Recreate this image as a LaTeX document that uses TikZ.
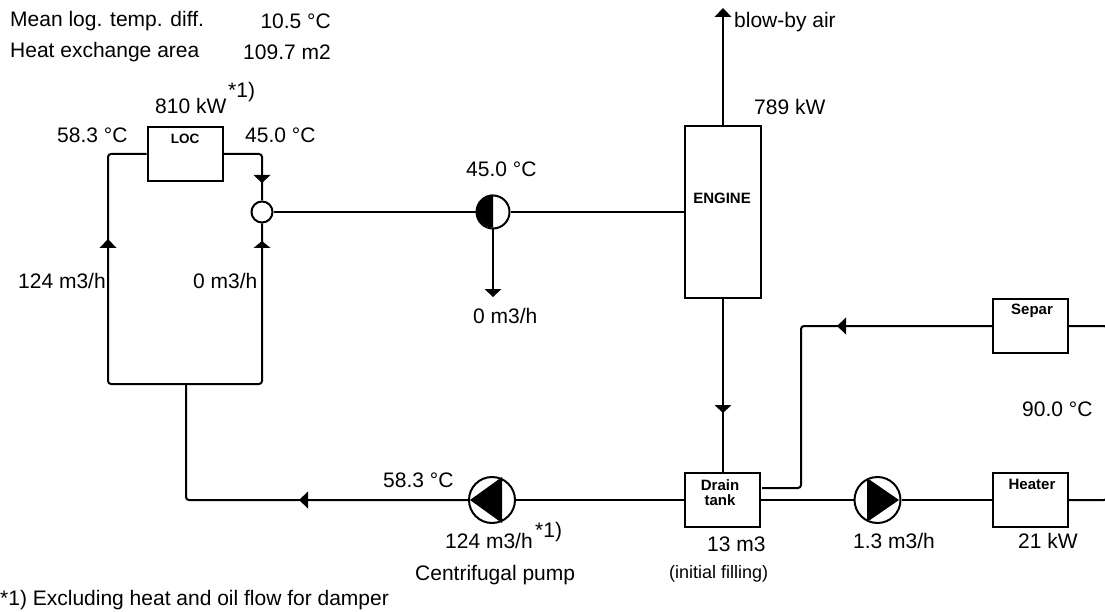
\documentclass[tikz,border=0pt]{standalone}
\usepackage{fontspec}
\setmainfont{Liberation Sans}
\tikzset{
    unitbox/.style={draw, line width=2pt, minimum width=75pt, minimum height=54.5pt, inner sep=0pt},
    boxname/.style={font=\bfseries\fontsize{15}{15}\selectfont, align=center, inner sep=0pt},
    lbl/.style={font=\fontsize{21}{24}\selectfont, inner sep=0pt},
    pipe/.style={line width=2pt, rounded corners=3pt},
    roundel/.style={circle, draw, line width=2pt, inner sep=0pt}
}
\begin{document}
\begin{tikzpicture}[x=1pt, y=-1pt]
    \useasboundingbox (0,0) rectangle (1105,612);

    % units
    \node[unitbox] (loc) at (185,154) {};
    \node[unitbox, minimum height=171pt, minimum width=76pt] (engine) at (722.5,212) {};
    \node[unitbox] (tank) at (722.5,500) {};
    \node[unitbox] (separ) at (1030.5,326) {};
    \node[unitbox] (heater) at (1030.5,500) {};
    \node[boxname, font=\bfseries\fontsize{13.5}{15}\selectfont] (locname) at (185,139) {LOC};
    \node[boxname] (enginename) at (722,198) {ENGINE};
    \node[boxname] (tankname) at (720,493) {Drain\\tank};
    \node[boxname] (separname) at (1032,311) {Separ};
    \node[boxname] (heatername) at (1032,484) {Heater};

    % pumps and valves
    \node[roundel, minimum size=21pt] (mix) at (262,212) {};
    \node[roundel, minimum size=33pt] (split) at (493,212) {};
    \fill (split.north) arc (90:270:16.5pt) -- cycle;
    \node[roundel, minimum size=46pt] (oilpump) at (492,500) {};
    \fill (470,500) -- (502,477) -- (502,523) -- cycle;
    \node[roundel, minimum size=46pt] (feedpump) at (877.5,500) {};
    \fill (899,500) -- (867,478) -- (867,522) -- cycle;

    % free ends
    \coordinate (blowby) at (723,12);
    \coordinate (drainout) at (493,295);
    \coordinate (leftbot) at (108,384);
    \coordinate (rightbot) at (262,384);
    \coordinate (stemtop) at (186,384);
    \coordinate (stembot) at (186,500);
    \coordinate (tankout) at (762,488);
    \coordinate (edgetop) at (1107,326);
    \coordinate (edgebot) at (1107,500);

    % pipes
    \draw[pipe] (loc.west) -- (108,154) -- (leftbot) -- (rightbot) -- (mix.south);
    \draw[pipe] (loc.east) -- (262,154) -- (mix.north);
    \draw[pipe] (mix.east) -- (split.west);
    \draw[pipe] (split.east) -- (engine.west);
    \draw[pipe] (split.south) -- (drainout);
    \draw[pipe] (engine.north -| blowby) -- (blowby);
    \draw[pipe] (engine.south -| blowby) -- (tank.north -| blowby);
    \draw[pipe] (stemtop) -- (stembot) -- (oilpump.west);
    \draw[pipe] (oilpump.east) -- (tank.west);
    \draw[pipe] (tank.east) -- (feedpump.west);
    \draw[pipe] (feedpump.east) -- (heater.west);
    \draw[pipe] (separ.west) -- (801,326) -- (801,488) -- (tankout);
    \draw[pipe] (separ.east) -- (edgetop) -- (edgebot) -- (heater.east);

    % flow arrows
    \fill (253.5,175) -- (270.5,175) -- (262,183) -- cycle;
    \fill (253.5,248) -- (270.5,248) -- (262,241) -- cycle;
    \fill (99.5,248) -- (116.5,248) -- (108,239) -- cycle;
    \fill (484.5,289) -- (501.5,289) -- (493,297) -- cycle;
    \fill (714.5,17) -- (731.5,17) -- (723,8) -- cycle;
    \fill (714.5,405) -- (731.5,405) -- (723,413) -- cycle;
    \fill (308,491.5) -- (308,508.5) -- (299,500) -- cycle;
    \fill (846,317.5) -- (846,334.5) -- (837,326) -- cycle;

    % labels
    \node[lbl, anchor=west] (meanlabel) at (10,21) {Mean log. temp. diff.};
    \node[lbl, anchor=east] (meanvalue) at (331,21) {10.5 °C};
    \node[lbl, anchor=west] (arealabel) at (10,52) {Heat exchange area};
    \node[lbl, anchor=east] (areavalue) at (331,52) {109.7 m2};
    \node[lbl, anchor=west] (locpower) at (155,106) {810 kW};
    \node[lbl, anchor=west] (locnote) at (228,92) {*1)};
    \node[lbl, anchor=west] (locin) at (57,135) {58.3 °C};
    \node[lbl, anchor=west] (locout) at (245,135) {45.0 °C};
    \node[lbl, anchor=west] (flowleft) at (18,281) {124 m3/h};
    \node[lbl, anchor=west] (flowright) at (193,281) {0 m3/h};
    \node[lbl, anchor=west] (splittemp) at (466,169) {45.0 °C};
    \node[lbl, anchor=west] (splitflow) at (473,316) {0 m3/h};
    \node[lbl, anchor=west] (blowbylabel) at (734,22) {blow-by air};
    \node[lbl, anchor=west] (enginepower) at (754,107) {789 kW};
    \node[lbl, anchor=west] (sepatemp) at (1022,409) {90.0 °C};
    \node[lbl, anchor=west] (pumptemp) at (383,480) {58.3 °C};
    \node[lbl, anchor=west] (pumpflow) at (445,541) {124 m3/h};
    \node[lbl, anchor=west] (pumpnote) at (535,532) {*1)};
    \node[lbl, anchor=west] (pumpname) at (415,575) {Centrifugal pump};
    \node[lbl, anchor=west] (tankvol) at (707,544) {13 m3};
    \node[lbl, anchor=west, font=\fontsize{18}{20}\selectfont] (tankfill) at (669,574) {(initial filling)};
    \node[lbl, anchor=west] (feedflow) at (853,541) {1.3 m3/h};
    \node[lbl, anchor=west] (heaterpower) at (1018,541) {21 kW};
    \node[lbl, anchor=west] (footnote) at (0,600) {*1) Excluding heat and oil flow for damper};
\end{tikzpicture}
\end{document}
